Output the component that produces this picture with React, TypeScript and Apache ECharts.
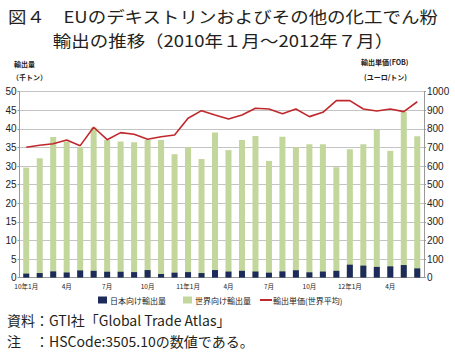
import React, { useEffect, useRef } from "react";
import * as echarts from "echarts";

const categories = [
  "10年1月", "2月", "3月", "4月", "5月", "6月", "7月", "8月", "9月", "10月", "11月", "12月",
  "11年1月", "2月", "3月", "4月", "5月", "6月", "7月", "8月", "9月", "10月", "11月", "12月",
  "12年1月", "2月", "3月", "4月", "5月", "6月",
];

// 世界向け輸出量 (千トン)
const worldExports = [
  29.6, 32.1, 37.8, 36.6, 35.1, 40.4, 37.0, 36.6, 36.4, 37.0,
  37.0, 33.2, 35.1, 31.9, 39.0, 34.3, 37.0, 38.1, 31.4, 37.9,
  35.1, 35.9, 35.9, 29.7, 34.5, 35.9, 39.8, 34.1, 44.6, 38.0,
];

// 日本向け輸出量 (千トン)
const japanExports = [
  1.1, 1.25, 1.7, 1.4, 1.95, 1.85, 1.6, 1.6, 1.5, 2.05,
  1.0, 1.35, 1.5, 1.25, 2.05, 1.65, 1.85, 1.7, 1.35, 1.7,
  2.0, 1.45, 1.65, 1.85, 3.5, 3.25, 2.9, 3.05, 3.4, 2.5,
];

// 輸出単価 (世界平均, ユーロ/トン)
const unitPrice = [
  701, 712, 720, 740, 710, 809, 742, 780, 771, 744,
  758, 767, 857, 898, 875, 853, 875, 911, 907, 882,
  907, 866, 889, 952, 952, 907, 896, 907, 893, 946,
];

const leftTicks = { min: 0, max: 50, interval: 5 };
const rightTicks = { min: 0, max: 1000, interval: 100 };

const JP = "'Noto Sans CJK JP', 'Noto Sans', sans-serif";
const NUM = "'Liberation Sans Narrow', 'Arial Narrow', 'Liberation Sans', sans-serif";

export default function App() {
  const ref = useRef<HTMLDivElement>(null);
  useEffect(() => {
    if (!ref.current) return;
    const chart = echarts.init(ref.current, null, { renderer: "svg" });
    const legendText = { fontFamily: JP, fontSize: 8, color: "#222", lineHeight: 9 };
    chart.setOption({
      animation: false,
      backgroundColor: "#ffffff",
      grid: { left: 19.5, right: 31, top: 91.7, bottom: 84.3, containLabel: false },
      legend: [
        {
          left: 98,
          top: 295.5,
          padding: 0,
          itemWidth: 9,
          itemHeight: 7,
          itemGap: 17,
          textStyle: { ...legendText, padding: [0, 0, 0, -2] },
          data: [
            { name: "日本向け輸出量", icon: "rect" },
            { name: "世界向け輸出量", icon: "rect" },
          ],
        },
        {
          left: 260,
          top: 295.5,
          padding: 0,
          itemWidth: 12,
          itemHeight: 2,
          textStyle: { ...legendText, padding: [0, 0, 0, -4] },
          data: [{ name: "輸出単価(世界平均)", icon: "rect" }],
        },
      ],
      xAxis: {
        type: "category",
        data: categories,
        axisLine: { show: true, lineStyle: { color: "#999", width: 1 } },
        axisTick: { show: false },
        axisLabel: { interval: 2, fontFamily: JP, fontSize: 6.5, color: "#222", margin: 5 },
      },
      yAxis: [
        {
          type: "value",
          ...leftTicks,
          axisLine: { show: true, lineStyle: { color: "#999" } },
          axisTick: { show: true, length: 2, lineStyle: { color: "#999" } },
          axisLabel: { fontFamily: NUM, fontSize: 10, color: "#222", margin: 3 },
          splitLine: { show: true, lineStyle: { color: "#c4c4c4", width: 1 } },
        },
        {
          type: "value",
          ...rightTicks,
          position: "right",
          axisLine: { show: true, lineStyle: { color: "#999" } },
          axisTick: { show: true, length: 2, lineStyle: { color: "#999" } },
          axisLabel: {
            fontFamily: NUM,
            fontSize: 10,
            color: "#222",
            margin: 3,
            formatter: (v: number) => String(v),
          },
          splitLine: { show: false },
        },
      ],
      series: [
        {
          name: "世界向け輸出量",
          type: "bar",
          data: worldExports,
          barWidth: 6,
          barGap: "-100%",
          itemStyle: { color: "#c3d69b" },
          z: 2,
        },
        {
          name: "日本向け輸出量",
          type: "bar",
          data: japanExports,
          barWidth: 6,
          barGap: "-100%",
          itemStyle: { color: "#1c2b5a" },
          z: 3,
        },
        {
          name: "輸出単価(世界平均)",
          type: "line",
          yAxisIndex: 1,
          data: unitPrice,
          symbol: "none",
          lineStyle: { color: "#c0282d", width: 1.6 },
          itemStyle: { color: "#c0282d" },
          z: 5,
        },
      ],
      graphic: [
        {
          type: "text",
          x: 223,
          y: 4,
          scaleX: 1.12,
          style: {
            text: "図４　EUのデキストリンおよびその他の化工でん粉\n輸出の推移（2010年１月～2012年７月）",
            font: `16.5px ${JP}`,
            lineHeight: 24,
            align: "center",
            verticalAlign: "top",
            fill: "#231f20",
          },
        },
        { type: "text", left: 14, top: 60, style: { text: "輸出量", font: `bold 7px ${JP}`, fill: "#222" } },
        { type: "text", left: 12, top: 73, style: { text: "（千トン）", font: `bold 7px ${JP}`, fill: "#222" } },
        { type: "text", left: 361, top: 58, style: { text: "輸出単価(FOB)", font: `bold 7px ${JP}`, fill: "#222" } },
        { type: "text", left: 364, top: 73, style: { text: "(ユーロ/トン)", font: `bold 7px ${JP}`, fill: "#222" } },
        {
          type: "text",
          left: 7,
          top: 312,
          style: {
            text: "資料：GTI社「Global Trade Atlas」",
            font: `14px ${JP}`,
            lineHeight: 16,
            fill: "#231f20",
          },
        },
        {
          type: "text",
          left: 7,
          top: 333,
          style: {
            text: "注　：HSCode:3505.10の数値である。",
            font: `14px ${JP}`,
            lineHeight: 16,
            fill: "#231f20",
          },
        },
      ],
    });
    return () => chart.dispose();
  }, []);
  return (
    <div
      ref={ref}
      style={{ position: "fixed", left: 0, top: 0, width: 455, height: 362, background: "#fff" }}
    />
  );
}
